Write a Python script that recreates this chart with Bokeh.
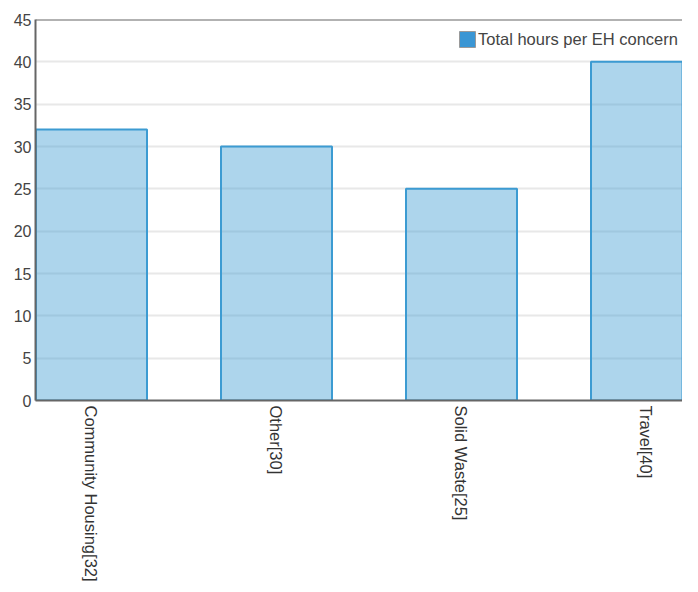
import math
from bokeh.plotting import figure
from bokeh.models import (Range1d, FixedTicker, Span, Legend, LegendItem,
                          ColumnDataSource)
from bokeh.embed import file_html
from bokeh.resources import INLINE

# ---- data ----
categories = ["Community Housing", "Other", "Solid Waste", "Travel"]
hours = [32, 30, 25, 40]
y_ticks = [0, 5, 10, 15, 20, 25, 30, 35, 40, 45]
series_name = "Total hours per EH concern"

x_pos = list(range(len(categories)))
x_labels = {i: f"{c}[{v}]" for i, (c, v) in enumerate(zip(categories, hours))}

FONT = "Liberation Sans"

p = figure(width=682, height=584, output_backend="svg", toolbar_location=None,
           x_range=Range1d(-0.3027, 3.1946), y_range=Range1d(0, 45),
           min_border_left=35, min_border_right=0, min_border_top=19,
           min_border_bottom=184)
p.outline_line_color = None
p.background_fill_color = "white"
p.border_fill_color = "white"

src = ColumnDataSource(dict(x=x_pos, top=hours))
bars = p.vbar(x="x", top="top", width=0.6, source=src,
              fill_color="#3c9bd2", fill_alpha=0.42,
              line_color="#3c9bd2", line_alpha=1.0, line_width=2)

# hidden renderer used only for the legend swatch style
swatch = p.vbar(x="x", top="top", width=0.6, source=src,
                fill_color="#3a96d4", line_color="#9a9a9a", line_width=1,
                visible=False)

# grid
p.xgrid.visible = False
p.ygrid.ticker = FixedTicker(ticks=y_ticks)
p.ygrid.grid_line_color = "#e8e8e8"
p.ygrid.grid_line_width = 2

# y axis
p.yaxis.ticker = FixedTicker(ticks=y_ticks)
p.yaxis.major_label_text_font = FONT
p.yaxis.major_label_text_font_size = "16px"
p.yaxis.major_label_text_color = "#444444"
p.yaxis.major_label_standoff = 4
p.yaxis.major_tick_line_color = None
p.yaxis.minor_tick_line_color = None
p.yaxis.major_tick_out = 0
p.yaxis.major_tick_in = 0
p.yaxis.axis_line_color = "#666666"
p.yaxis.axis_line_width = 2

# x axis
p.xaxis.ticker = FixedTicker(ticks=x_pos)
p.xaxis.major_label_overrides = x_labels
p.xaxis.major_label_orientation = -math.pi / 2
p.xaxis.major_label_text_font = FONT
p.xaxis.major_label_text_font_size = "16.5px"
p.xaxis.major_label_text_color = "#333333"
p.xaxis.major_label_standoff = 5
p.xaxis.major_tick_line_color = None
p.xaxis.minor_tick_line_color = None
p.xaxis.major_tick_out = 0
p.xaxis.major_tick_in = 0
p.xaxis.axis_line_color = "#666666"
p.xaxis.axis_line_width = 2

# top border
p.add_layout(Span(location=45, dimension="width", line_color="#666666",
                  line_width=2))

legend = Legend(items=[LegendItem(label=series_name, renderers=[swatch])],
                location=(422, 351), padding=0, margin=0, spacing=0,
                glyph_width=20, glyph_height=20, label_height=20,
                label_standoff=1, click_policy="none",
                label_text_font=FONT, label_text_font_size="16.5px",
                label_text_color="#444444",
                border_line_color=None, background_fill_alpha=0)
p.add_layout(legend)

open("out.html", "w").write(file_html(p, INLINE))
